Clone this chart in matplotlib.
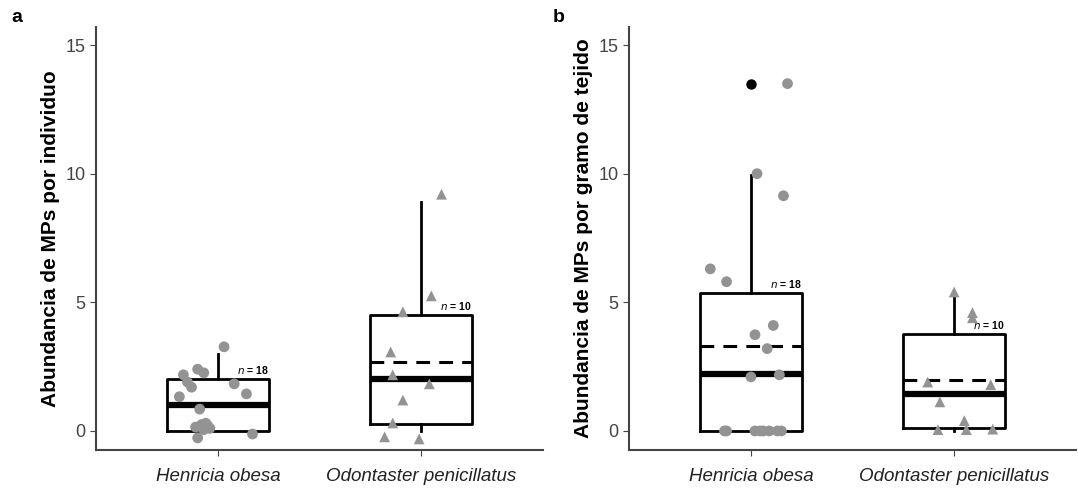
import matplotlib.pyplot as plt

plt.rcParams["font.family"] = ["Liberation Sans", "DejaVu Sans"]

species = ["Henricia obesa", "Odontaster penicillatus"]
n_labels = ["n = 18", "n = 10"]

# box statistics: [Henricia, Odontaster]
ind_q1 = [0.0, 0.27]
ind_med = [1.0, 2.02]
ind_q3 = [2.0, 4.5]
ind_lo = [0.0, 0.0]
ind_hi = [3.0, 8.9]
ind_mean = [1.0, 2.68]

tej_q1 = [0.0, 0.1]
tej_med = [2.2, 1.44]
tej_q3 = [5.37, 3.77]
tej_lo = [0.0, 0.0]
tej_hi = [9.96, 5.4]
tej_mean = [3.3, 1.98]
tej_out = [[13.5], []]

# jittered points (x offset from category centre, value)
ind_hen_dx = [0.03, -0.10, -0.07, -0.17, -0.15, -0.13, 0.08, 0.14, -0.19, -0.09,
              -0.11, -0.08, -0.06, -0.04, -0.07, -0.05, -0.10, 0.17]
ind_hen_y = [3.27, 2.4, 2.26, 2.18, 1.9, 1.7, 1.83, 1.44, 1.33, 0.85,
             0.15, 0.25, 0.3, 0.1, 0.05, 0.2, -0.27, -0.12]
ind_odo_dx = [0.10, 0.05, -0.09, -0.15, -0.14, 0.04, -0.09, -0.14, -0.18, -0.01]
ind_odo_y = [9.2, 5.25, 4.63, 3.07, 2.18, 1.83, 1.2, 0.31, -0.23, -0.31]

tej_hen_dx = [0.18, 0.03, 0.16, -0.20, -0.12, 0.11, 0.02, 0.08, 0.0, 0.14,
              -0.13, -0.12, 0.02, 0.06, 0.09, 0.13, 0.15, 0.045]
tej_hen_y = [13.5, 10.0, 9.14, 6.3, 5.8, 4.1, 3.74, 3.2, 2.1, 2.18,
             0, 0, 0, 0, 0, 0, 0, 0]
tej_odo_dx = [0.0, 0.09, 0.09, -0.13, 0.18, -0.07, 0.05, -0.08, 0.06, 0.19]
tej_odo_y = [5.4, 4.6, 4.4, 1.9, 1.8, 1.13, 0.4, 0.05, 0.05, 0.07]

fig = plt.figure(figsize=(10.78, 4.92), dpi=100)
ax_a = fig.add_axes([0.0891, 0.0854, 0.4147, 0.8597])
ax_b = fig.add_axes([0.5835, 0.0854, 0.4147, 0.8597])

pt_color = "#939393"


def panel(ax, q1, med, q3, lo, hi, mean, outs, pts, ylabel):
    stats = []
    for i in range(2):
        stats.append(dict(med=med[i], q1=q1[i], q3=q3[i], whislo=lo[i],
                          whishi=hi[i], fliers=outs[i], mean=mean[i]))
    ax.bxp(stats, positions=[1, 2], widths=0.5, showcaps=False, showmeans=False,
           boxprops=dict(color="black", linewidth=2),
           whiskerprops=dict(color="black", linewidth=2),
           medianprops=dict(color="black", linewidth=4.5, solid_capstyle="butt"),
           flierprops=dict(marker="o", markerfacecolor="black",
                           markeredgecolor="black", markersize=6.5))
    for i in range(2):
        ax.hlines(mean[i], i + 1 - 0.25, i + 1 + 0.25, colors="black",
                  linewidth=2.2, linestyles=(0, (4.5, 3)))
        ax.text(i + 1.25, q3[i] + 0.12, n_labels[i].replace("n", r"$\mathit{n}$", 1),
                ha="right", va="bottom", fontsize=7.5, fontweight="bold")
    markers = ["o", "^"]
    for i, (dx, y) in enumerate(pts):
        ax.scatter([i + 1 + d for d in dx], y, marker=markers[i], s=60,
                   color=pt_color, edgecolors="none", zorder=5)
    ax.set_xlim(0.4, 2.6)
    ax.set_ylim(-0.74, 15.7)
    ax.set_xticks([1, 2])
    ax.set_xticklabels(species, style="italic", fontsize=13.5, color="#222222")
    ax.set_yticks([0, 5, 10, 15])
    ax.tick_params(axis="y", labelsize=13, labelcolor="#444444", length=4,
                   color="#444444")
    ax.tick_params(axis="x", length=4, color="#444444", pad=9)
    for s in ["top", "right"]:
        ax.spines[s].set_visible(False)
    for s in ["left", "bottom"]:
        ax.spines[s].set_color("#444444")
        ax.spines[s].set_linewidth(1.5)
    ax.set_ylabel(ylabel, fontsize=15, fontweight="bold", labelpad=4)


panel(ax_a, ind_q1, ind_med, ind_q3, ind_lo, ind_hi, ind_mean, [[], []],
      [(ind_hen_dx, ind_hen_y), (ind_odo_dx, ind_odo_y)],
      "Abundancia de MPs por individuo")
panel(ax_b, tej_q1, tej_med, tej_q3, tej_lo, tej_hi, tej_mean, tej_out,
      [(tej_hen_dx, tej_hen_y), (tej_odo_dx, tej_odo_y)],
      "Abundancia de MPs por gramo de tejido")

fig.text(0.011, 0.965, "a", fontsize=14, fontweight="bold", va="center")
fig.text(0.513, 0.965, "b", fontsize=14, fontweight="bold", va="center")

fig.savefig("out.png", dpi=100)
